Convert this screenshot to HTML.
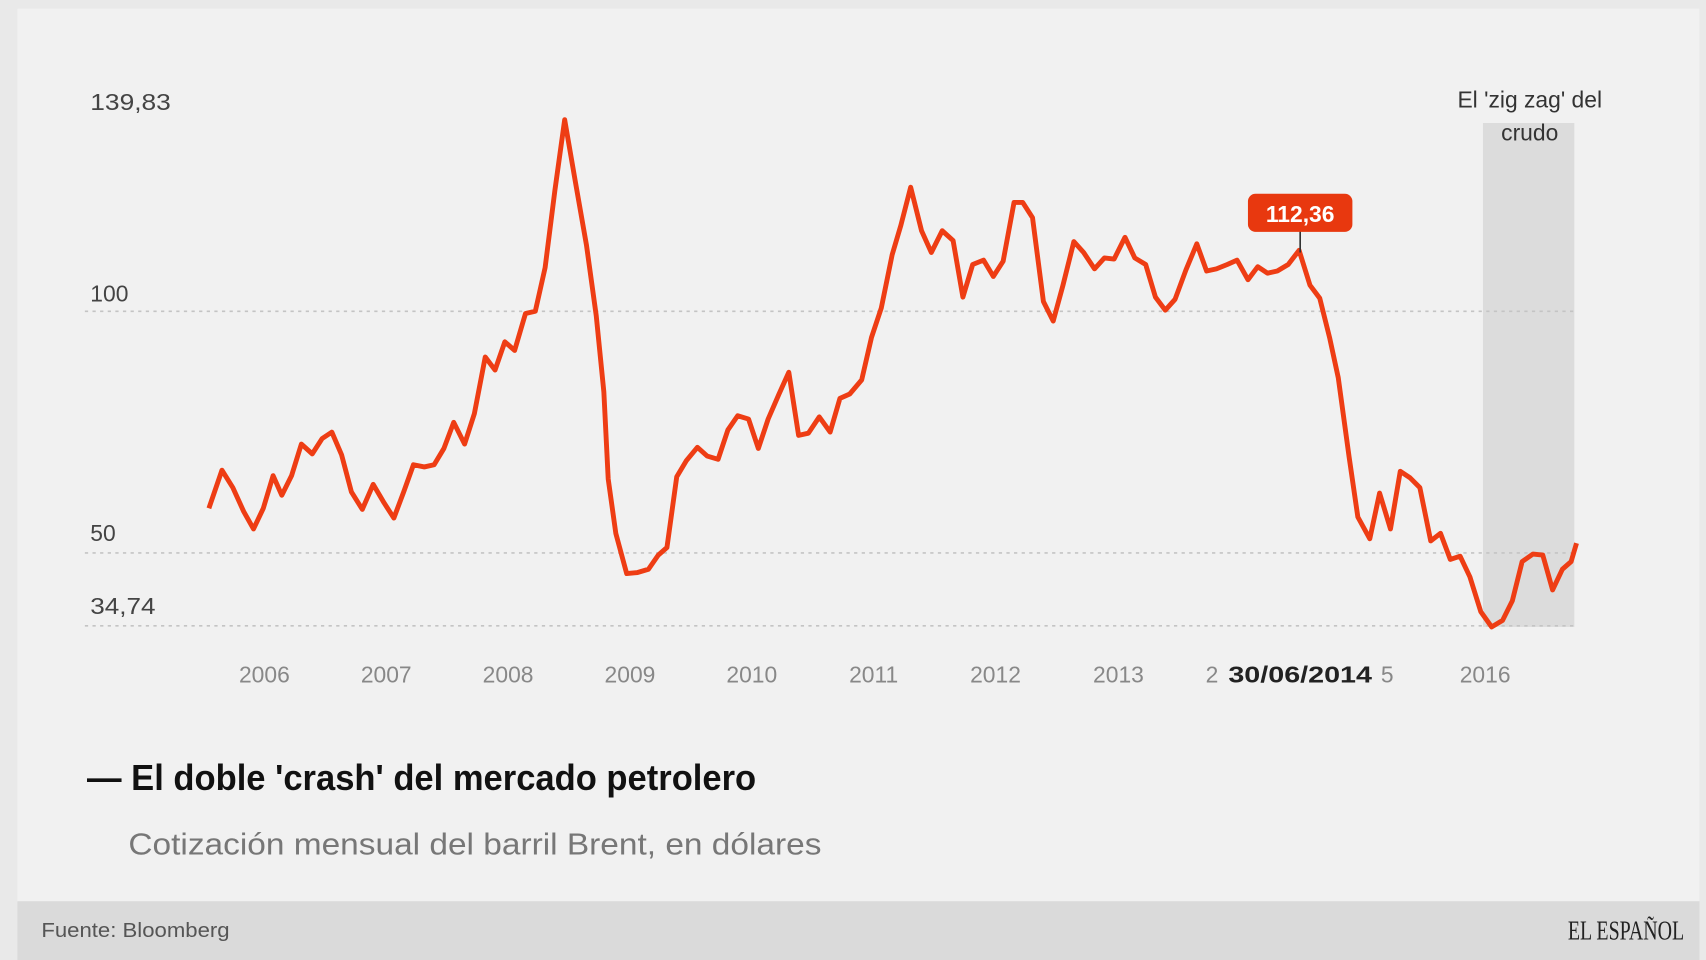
<!DOCTYPE html>
<html><head><meta charset="utf-8"><style>
html,body{margin:0;padding:0;background:#fff;}
svg{display:block;}
text{font-family:"Liberation Sans",sans-serif;}
</style></head><body>
<svg width="1706" height="960" viewBox="0 0 1568 882" preserveAspectRatio="none" xmlns="http://www.w3.org/2000/svg">
<rect x="0" y="0" width="1568" height="882" fill="#e9e9e9"/>
<rect x="16" y="8" width="1546" height="824" fill="#f1f1f1"/>
<rect x="16" y="828" width="1546" height="54" fill="#dadada"/>
<rect x="1363" y="113" width="84" height="463" fill="#dcdcdc"/>
<g stroke="#c4c4c4" stroke-width="1.5" stroke-dasharray="3,4">
<line x1="78" y1="286" x2="1447" y2="286"/>
<line x1="78" y1="508" x2="1447" y2="508"/>
<line x1="78" y1="575" x2="1447" y2="575"/>
</g>
<g font-size="21" fill="#444">
<text x="83" y="101" textLength="74" lengthAdjust="spacingAndGlyphs">139,83</text>
<text x="83" y="277">100</text>
<text x="83" y="497">50</text>
<text x="83" y="564" textLength="60" lengthAdjust="spacingAndGlyphs">34,74</text>
</g>
<g font-size="21" fill="#888" text-anchor="middle">
<text x="243" y="627">2006</text><text x="355" y="627">2007</text><text x="467" y="627">2008</text>
<text x="579" y="627">2009</text><text x="691" y="627">2010</text><text x="803" y="627">2011</text>
<text x="915" y="627">2012</text><text x="1028" y="627">2013</text><text x="1365" y="627">2016</text>
<text x="1114" y="627">2</text><text x="1275" y="627">5</text>
</g>
<text x="1195" y="627" font-size="21" font-weight="bold" fill="#222" text-anchor="middle" textLength="132" lengthAdjust="spacingAndGlyphs">30/06/2014</text>
<text x="1406" y="99" font-size="21" fill="#333" text-anchor="middle">El 'zig zag' del</text>
<text x="1406" y="129" font-size="21" fill="#333" text-anchor="middle">crudo</text>
<polyline fill="none" stroke="#ee3d14" stroke-width="4.5" stroke-linejoin="round" points="192,467 204,432 214,448 224,470 233,486 242,467 251,437 259,455 268,437 277,408 287,417 296,403 305,397 314,418 323,452 333,468 343,445 353,462 362,476 371,452 380,427 390,429 399,427 408,412 417,388 427,408 436,380 446,328 455,340 464,314 473,322 483,288 492,286 501,246 510,175 519,110 529,168 539,225 548,290 555,360 559,440 566,490 576,527 586,526 596,523 605,510 613,503 622,438 631,423 641,411 650,419 660,422 669,395 678,382 688,385 697,412 706,385 716,362 725,342 734,400 743,398 753,383 763,397 772,366 781,362 792,349 801,310 810,283 820,234 828,207 837,172 847,212 856,232 866,212 876,221 885,273 894,243 904,239 913,254 922,240 932,186 940,186 949,200 959,277 968,295 977,262 987,222 996,232 1006,247 1015,237 1024,238 1034,218 1043,237 1053,243 1062,273 1071,285 1080,275 1090,248 1100,224 1109,249 1118,247 1128,243 1137,239 1147,257 1156,245 1165,251 1174,249 1184,243 1194,230 1204,262 1213,274 1222,310 1230,347 1240,420 1248,475 1259,495 1268,453 1278,486 1287,433 1296,439 1305,448 1315,497 1324,490 1333,514 1342,511 1351,530 1361,562 1371,576 1381,570 1390,552 1399,516 1409,509 1418,510 1427,542 1436,523 1444,516 1449,499"/>
<line x1="1195" y1="212" x2="1195" y2="232" stroke="#333" stroke-width="1.5"/>
<rect x="1147" y="178" width="96" height="35" rx="7" fill="#e8380f"/>
<text x="1195" y="204" font-size="21" font-weight="bold" fill="#fff" text-anchor="middle">112,36</text>
<text x="80" y="726" font-size="33" fill="#111" font-weight="600" textLength="615" lengthAdjust="spacingAndGlyphs">— El doble 'crash' del mercado petrolero</text>
<text x="118" y="785" font-size="28" fill="#777" textLength="637" lengthAdjust="spacingAndGlyphs">Cotización mensual del barril Brent, en dólares</text>
<text x="38" y="861" font-size="19" fill="#555" textLength="173" lengthAdjust="spacingAndGlyphs">Fuente: Bloomberg</text>
<text x="1548" y="863" font-size="25" fill="#222" text-anchor="end" style="font-family:'Liberation Serif',serif" textLength="107" lengthAdjust="spacingAndGlyphs">EL ESPAÑOL</text>
</svg>
</body></html>
